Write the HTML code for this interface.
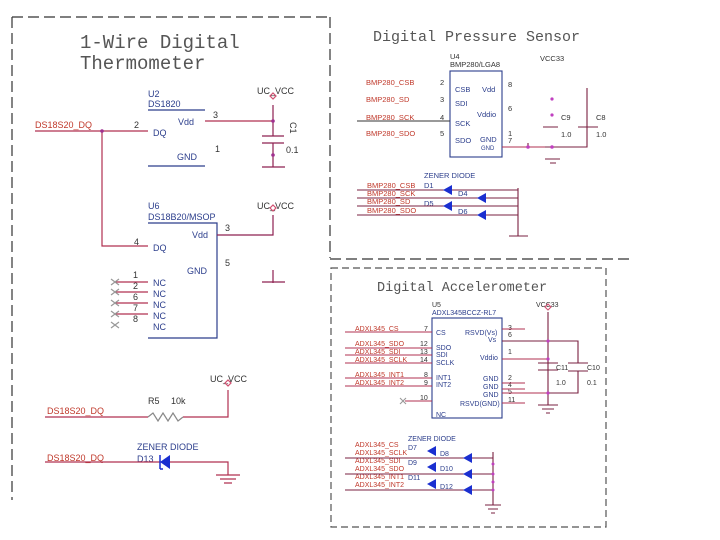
<!DOCTYPE html>
<html><head><meta charset="utf-8"><style>
html,body{margin:0;padding:0;background:#fff}
svg{display:block}
text{font-family:"Liberation Sans",sans-serif}
.t{font-family:"Liberation Mono",monospace;fill:#555}
.r{fill:#c0392b}
.b{fill:#2c3e8c}
.k{fill:#333}
</style></head><body>
<svg width="720" height="540" viewBox="0 0 720 540" xmlns="http://www.w3.org/2000/svg">
<rect width="720" height="540" fill="#fff"/>
<g fill="none" stroke="#333" stroke-width="1.2" stroke-dasharray="11,5">
<path d="M12 17 H330 M12 17 V500 M330 17 V258 M330 259 H630"/>
</g>
<rect x="331" y="268" width="275" height="259" fill="none" stroke="#555" stroke-width="1.2" stroke-dasharray="7,4"/>

<text class="t" x="80" y="48" font-size="19">1-Wire Digital</text>
<text class="t" x="80" y="69" font-size="19">Thermometer</text>
<g font-size="9">
<text class="b" x="148" y="97">U2</text>
<text class="b" x="148" y="107">DS1820</text>
<text class="b" x="178" y="125">Vdd</text>
<text class="b" x="153" y="136">DQ</text>
<text class="b" x="177" y="160">GND</text>
<text class="k" x="213" y="118">3</text>
<text class="k" x="134" y="128">2</text>
<text class="k" x="215" y="152">1</text>
<text class="r" x="35" y="128">DS18S20_DQ</text>
<text class="k" x="257" y="94">UC_VCC</text>
<text class="k" x="286" y="153">0.1</text>
<text class="k" x="290" y="122" transform="rotate(90 290 122)">C1</text>
<text class="b" x="148" y="209">U6</text>
<text class="b" x="148" y="220">DS18B20/MSOP</text>
<text class="b" x="192" y="238">Vdd</text>
<text class="b" x="153" y="251">DQ</text>
<text class="b" x="187" y="274">GND</text>
<text class="k" x="225" y="231">3</text>
<text class="k" x="134" y="245">4</text>
<text class="k" x="225" y="266">5</text>
<text class="k" x="257" y="209">UC_VCC</text>
<text class="k" x="133" y="278">1</text><text class="k" x="133" y="289">2</text><text class="k" x="133" y="300">6</text><text class="k" x="133" y="311">7</text><text class="k" x="133" y="322">8</text>
<text class="b" x="153" y="286">NC</text><text class="b" x="153" y="297">NC</text><text class="b" x="153" y="308">NC</text><text class="b" x="153" y="319">NC</text><text class="b" x="153" y="330">NC</text>
<text class="k" x="210" y="382">UC_VCC</text>
<text class="k" x="148" y="404">R5</text>
<text class="k" x="171" y="404">10k</text>
<text class="r" x="47" y="414">DS18S20_DQ</text>
<text class="b" x="137" y="450">ZENER DIODE</text>
<text class="b" x="137" y="462">D13</text>
<text class="r" x="47" y="461">DS18S20_DQ</text>
</g>
<g fill="none" stroke-width="1.2">
<path stroke="#2c3e8c" d="M148 110 H205 M148 166 H205 M148 223 H217 V338 H148"/>
<path stroke="#b03050" d="M205 121 H273 M102 131 H148 M102 131 V246 H148 M35 131 H102"/>
<path stroke="#8e2050" d="M273 105 V136 M273 143 V167 M262 136 H284 M262 143 H284 M262 167 H285 M217 235 H273 V215 M273 270 V283 M262 282 H285"/>
<path stroke="#b03050" d="M115 282 H148 M115 292 H148 M115 303 H148 M115 314 H148"/>
<path stroke="#999" d="M111 279 l8 6 M111 285 l8 -6 M111 289 l8 6 M111 295 l8 -6 M111 300 l8 6 M111 306 l8 -6 M111 311 l8 6 M111 317 l8 -6 M111 322 l8 6 M111 328 l8 -6"/>
<path stroke="#b03050" d="M45 417 H148 M183 417 H228 V390 M45 462 H228 V475"/>
<path stroke="#888" d="M148 417 l5 -4 l5 8 l5 -8 l5 8 l5 -8 l5 8 l5 -4"/>
<path stroke="#b03050" d="M216 475 H240 M220 479 H236 M224 483 H232"/>
<path stroke="#d05070" d="M273 99 l-3 -3 l3 -3 l3 3 z M273 211 l-3 -3 l3 -3 l3 3z M228 386 l-3 -3 l3 -3 l3 3z"/>
</g>
<circle cx="102" cy="131" r="1.8" fill="#a03090"/>
<circle cx="273" cy="121" r="1.8" fill="#a03090"/>
<circle cx="273" cy="155" r="1.8" fill="#a03090"/>
<polygon points="160,462 170,455 170,469" fill="#1a2fd0"/>
<path d="M160 455 V469 M160 469 h3" stroke="#1a2fd0" stroke-width="1.5"/>

<text class="t" x="373" y="41" font-size="15">Digital Pressure Sensor</text>
<g font-size="7.5">
<text class="k" x="450" y="59">U4</text>
<text class="k" x="450" y="67">BMP280/LGA8</text>
<text class="r" x="366" y="85">BMP280_CSB</text>
<text class="r" x="366" y="102">BMP280_SD</text>
<text class="r" x="366" y="120">BMP280_SCK</text>
<text class="r" x="366" y="136">BMP280_SDO</text>
<text class="k" x="440" y="85">2</text><text class="k" x="440" y="102">3</text><text class="k" x="440" y="120">4</text><text class="k" x="440" y="136">5</text>
<text class="b" x="455" y="92">CSB</text><text class="b" x="455" y="106">SDI</text><text class="b" x="455" y="126">SCK</text><text class="b" x="455" y="143">SDO</text>
<text class="b" x="482" y="92">Vdd</text><text class="b" x="477" y="117">Vddio</text><text class="b" x="480" y="142">GND</text><text class="b" x="481" y="150" font-size="6">GND</text>
<text class="k" x="508" y="87">8</text><text class="k" x="508" y="111">6</text><text class="k" x="508" y="136">1</text><text class="k" x="508" y="143">7</text>
<text class="k" x="540" y="61">VCC33</text>
<text class="k" x="561" y="120">C9</text><text class="k" x="561" y="137">1.0</text>
<text class="k" x="596" y="120">C8</text><text class="k" x="596" y="137">1.0</text>
<text class="b" x="424" y="178">ZENER DIODE</text>
<text class="r" x="367" y="188">BMP280_CSB</text>
<text class="r" x="367" y="196">BMP280_SCK</text>
<text class="r" x="367" y="204">BMP280_SD</text>
<text class="r" x="367" y="213">BMP280_SDO</text>
<text class="b" x="424" y="188">D1</text><text class="b" x="458" y="196">D4</text><text class="b" x="424" y="206">D5</text><text class="b" x="458" y="214">D6</text>
</g>
<g fill="none" stroke-width="1.1">
<rect x="450" y="71" width="52" height="86" stroke="#2c3e8c"/>
<path stroke="#333" d="M357 121 H450"/>
<path stroke="#b03050" d="M502 147 H545"/>
<path stroke="#7a2040" d="M545 147 H587 V88 M578 127 H598 M587 127 V147 M543 127 H558 M528 143 V147 M545 159 H560 M550 163 H556"/>
<path stroke="#7a2040" d="M357 190 H518 M357 198 H518 M357 206 H518 M357 215 H518 M518 188 V236 M509 236 H528"/>
</g>
<circle cx="552" cy="99" r="1.6" fill="#c040c0"/><circle cx="552" cy="115" r="1.6" fill="#c040c0"/>
<circle cx="552" cy="147" r="1.8" fill="#c040c0"/><circle cx="528" cy="147" r="1.8" fill="#c040c0"/>
<g fill="#1a2fd0">
<polygon points="443,190 452,185 452,195"/><polygon points="477,198 486,193 486,203"/>
<polygon points="443,206 452,201 452,211"/><polygon points="477,215 486,210 486,220"/>
</g>

<text class="t" x="377" y="291" font-size="13.5">Digital Accelerometer</text>
<g font-size="7">
<text class="k" x="432" y="307">U5</text>
<text class="b" x="432" y="315">ADXL345BCCZ-RL7</text>
<text class="r" x="355" y="331">ADXL345_CS</text>
<text class="r" x="355" y="346">ADXL345_SDO</text>
<text class="r" x="355" y="354">ADXL345_SDI</text>
<text class="r" x="355" y="362">ADXL345_SCLK</text>
<text class="r" x="355" y="377">ADXL345_INT1</text>
<text class="r" x="355" y="385">ADXL345_INT2</text>
<text class="k" x="424" y="331">7</text><text class="k" x="420" y="346">12</text><text class="k" x="420" y="354">13</text><text class="k" x="420" y="362">14</text><text class="k" x="424" y="377">8</text><text class="k" x="424" y="385">9</text><text class="k" x="420" y="400">10</text>
<text class="b" x="436" y="335">CS</text><text class="b" x="436" y="350">SDO</text><text class="b" x="436" y="357">SDI</text><text class="b" x="436" y="365">SCLK</text><text class="b" x="436" y="380">INT1</text><text class="b" x="436" y="387">INT2</text><text class="b" x="436" y="417">NC</text>
<text class="b" x="465" y="335">RSVD(Vs)</text><text class="b" x="488" y="342">Vs</text><text class="b" x="480" y="360">Vddio</text>
<text class="b" x="483" y="381">GND</text><text class="b" x="483" y="389">GND</text><text class="b" x="483" y="397">GND</text><text class="b" x="460" y="406">RSVD(GND)</text>
<text class="k" x="508" y="330">3</text><text class="k" x="508" y="337">6</text><text class="k" x="508" y="354">1</text><text class="k" x="508" y="380">2</text><text class="k" x="508" y="387">4</text><text class="k" x="508" y="394">5</text><text class="k" x="508" y="402">11</text>
<text class="k" x="536" y="307">VCC33</text>
<text class="k" x="556" y="370">C11</text><text class="k" x="556" y="385">1.0</text>
<text class="k" x="587" y="370">C10</text><text class="k" x="587" y="385">0.1</text>
<text class="b" x="408" y="441">ZENER DIODE</text>
<text class="r" x="355" y="447">ADXL345_CS</text>
<text class="r" x="355" y="455">ADXL345_SCLK</text>
<text class="r" x="355" y="463">ADXL345_SDI</text>
<text class="r" x="355" y="471">ADXL345_SDO</text>
<text class="r" x="355" y="479">ADXL345_INT1</text>
<text class="r" x="355" y="487">ADXL345_INT2</text>
<text class="b" x="408" y="450">D7</text><text class="b" x="408" y="465">D9</text><text class="b" x="408" y="480">D11</text>
<text class="b" x="440" y="456">D8</text><text class="b" x="440" y="471">D10</text><text class="b" x="440" y="489">D12</text>
</g>
<g fill="none" stroke-width="1.1">
<rect x="432" y="318" width="70" height="100" stroke="#2c3e8c"/>
<path stroke="#b03050" d="M345 332 H432 M345 348 H432 M345 355 H432 M345 363 H432 M345 378 H432 M345 386 H432 M405 401 H432"/>
<path stroke="#b03050" d="M502 329 H525 M502 383 H525 M502 389 H525 M502 403 H525 M502 359 H548 M502 393 H548"/>
<path stroke="#7a2040" d="M502 341 H578 V363 M578 371 V393 H548 M548 312 V405 M538 363 H558 M538 370 H558 M568 371 H588 M568 363 H588 M538 405 H558 M542 409 H554 M546 413 H550"/>
<path stroke="#999" d="M400 398 l6 6 M400 404 l6 -6"/>
<path stroke="#7a2040" d="M345 458 H493 M345 474 H493 M345 490 H493 M493 452 V505 M485 505 H501 M488 509 H498 M491 513 H495"/>
<path stroke="#d05070" d="M548 310 l-3 -3 l3 -3 l3 3z"/>
</g>
<g fill="#c040c0"><circle cx="548" cy="341" r="1.6"/><circle cx="548" cy="359" r="1.6"/><circle cx="548" cy="393" r="1.6"/><circle cx="493" cy="464" r="1.5"/><circle cx="493" cy="474" r="1.5"/><circle cx="493" cy="482" r="1.5"/><circle cx="493" cy="490" r="1.5"/></g>
<g fill="#1a2fd0">
<polygon points="427,451 436,446 436,456"/><polygon points="427,467 436,462 436,472"/><polygon points="427,484 436,479 436,489"/>
<polygon points="463,458 472,453 472,463"/><polygon points="463,474 472,469 472,479"/><polygon points="463,490 472,485 472,495"/>
</g>
</svg>
</body></html>
